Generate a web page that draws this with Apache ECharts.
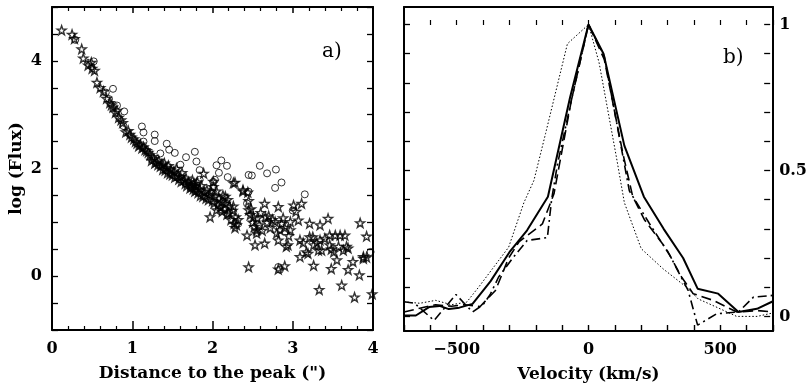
<!DOCTYPE html>
<html>
<head>
<meta charset="utf-8">
<script src="https://cdn.jsdelivr.net/npm/echarts@6/dist/echarts.min.js"></script>
<style>html,body{margin:0;padding:0;background:#fff}#c{width:810px;height:390px}</style>
</head>
<body>
<div id="c"></div>
<script>
// ---- Panel a) : log(Flux) vs distance to the peak ----
const starPoints = [
[0.12,4.57],[0.25,4.49],[0.28,4.41],[0.37,4.22],[0.39,4.05],[0.45,3.92],[0.49,3.97],[0.53,3.82],[0.50,3.86],[0.56,3.60],
[0.60,3.50],[0.64,3.43],[0.68,3.30],[0.72,3.22],[0.74,3.18],[0.76,3.14],[0.79,3.04],[0.81,3.08],[0.83,2.95],[0.86,2.90],
[0.88,2.85],[0.92,2.68],[0.95,2.70],[0.97,2.63],[0.99,2.58],[1.02,2.55],[1.04,2.50],[1.06,2.47],[1.08,2.42],[1.10,2.45],
[1.12,2.38],[1.14,2.40],[1.16,2.35],[1.18,2.33],[1.20,2.30],[1.22,2.25],[1.24,2.15],[1.25,2.22],[1.27,2.18],[1.28,2.10],
[1.30,2.12],[1.32,2.07],[1.33,2.15],[1.35,2.04],[1.37,2.08],[1.38,1.98],[1.40,2.10],[1.41,1.97],[1.42,2.02],[1.44,1.92],
[1.45,2.05],[1.47,1.90],[1.48,1.98],[1.50,1.88],[1.52,1.95],[1.53,1.84],[1.55,2.00],[1.56,1.86],[1.58,1.80],[1.60,1.85],
[1.61,1.76],[1.62,1.92],[1.64,1.78],[1.66,1.72],[1.67,1.82],[1.68,1.68],[1.70,1.75],[1.72,1.64],[1.73,1.70],[1.74,1.66],
[1.75,1.78],[1.76,1.62],[1.77,1.72],[1.78,1.58],[1.79,1.67],[1.80,1.60],[1.81,1.75],[1.82,1.55],[1.84,1.62],[1.85,1.50],
[1.86,1.68],[1.88,1.48],[1.89,1.91],[1.90,1.56],[1.92,1.45],[1.93,1.60],[1.95,1.42],[1.96,1.52],[1.97,1.10],[1.98,1.58],
[2.00,1.40],[2.01,1.66],[2.02,1.36],[2.03,1.48],[2.05,1.58],[2.05,1.23],[2.07,1.32],[2.08,1.45],[2.10,1.28],[2.11,1.38],
[2.12,1.20],[2.13,1.50],[2.15,1.25],[2.16,1.35],[2.18,1.15],[2.19,1.42],[2.20,1.17],[2.21,1.30],[2.23,1.05],[2.25,1.22],
[2.26,1.30],[2.27,0.98],[2.28,0.90],[2.29,1.10],[2.30,0.95],[2.32,1.05],[2.28,1.74],[2.38,1.58],[2.44,1.56],[2.45,1.40],
[2.01,1.76],[2.16,1.48],[2.26,1.73],[2.38,1.60],[2.45,1.23],[2.51,1.10],[2.43,0.76],[2.47,1.14],[2.48,1.25],[2.50,1.00],
[2.52,0.92],[2.53,0.58],[2.55,0.80],[2.55,0.86],[2.56,1.08],[2.58,0.95],[2.60,1.18],[2.62,0.85],[2.65,1.35],[2.66,1.10],
[2.65,0.61],[2.68,1.00],[2.70,1.12],[2.72,0.90],[2.75,1.05],[2.78,1.01],[2.80,0.80],[2.82,1.29],[2.82,0.67],[2.84,0.86],
[2.86,0.98],[2.88,1.08],[2.90,0.90],[2.92,0.55],[2.94,0.58],[2.95,0.75],[2.97,1.01],[2.97,0.86],[3.01,1.32],[3.04,1.20],
[3.07,1.04],[3.09,0.67],[3.11,1.35],[3.09,0.36],[3.13,0.62],[3.17,0.45],[3.19,0.42],[3.21,0.98],[3.21,0.73],[3.25,0.73],
[3.26,0.58],[3.30,0.62],[3.32,0.48],[3.34,0.95],[3.34,0.67],[3.36,0.48],[3.40,0.70],[3.44,1.07],[3.46,0.76],[3.46,0.58],
[3.48,0.50],[3.51,0.45],[3.53,0.76],[3.55,0.30],[3.57,0.55],[3.59,0.76],[3.63,0.48],[3.65,0.76],[3.67,0.55],[3.69,0.52],
[2.45,0.17],[2.82,0.13],[2.90,0.19],[3.26,0.20],[3.48,0.14],[3.69,0.12],[3.75,0.27],[3.83,0.02],[3.88,0.33],[3.92,0.35],
[3.84,0.99],[3.92,0.74],[3.88,0.36],[3.33,-0.25],[3.61,-0.17],[3.77,-0.39],[3.99,-0.33]
];
const circlePoints = [
[0.29,4.39],[0.52,3.99],[0.45,3.96],[0.76,3.48],[0.67,3.41],[0.71,3.29],[0.81,3.17],[0.90,3.06],[0.89,2.79],[1.12,2.78],
[1.14,2.67],[1.28,2.63],[1.28,2.51],[1.14,2.50],[1.43,2.46],[1.46,2.35],[1.35,2.28],[1.53,2.29],[1.67,2.21],[1.78,2.31],
[1.80,2.13],[1.84,1.97],[2.05,2.06],[2.11,2.15],[2.18,2.05],[2.08,1.92],[2.19,1.84],[1.60,2.07],[1.84,1.79],[2.03,1.79],
[2.45,1.88],[2.49,1.87],[2.59,2.05],[2.68,1.91],[2.79,1.98],[2.86,1.74],[2.78,1.64],[3.15,1.52],[2.01,1.75],[2.45,1.57],
[2.43,1.35],[2.82,0.17],[2.84,0.12],[3.00,1.22],[3.97,0.45]
];
const xTicksA = [0, 1, 2, 3, 4];
const yTicksA = [0, 2, 4];

// ---- Panel b) : normalised line profiles vs velocity ----
const solidLine = [[-700,0.003],[-655,0.003],[-605,0.032],[-565,0.036],[-530,0.025],[-490,0.03],[-440,0.043],[-372,0.12],
[-300,0.22],[-233,0.295],[-154,0.41],[-70,0.75],[0,1.0],[57,0.90],[136,0.585],[210,0.41],[285,0.30],[359,0.20],[414,0.095],
[492,0.078],[569,0.015],[639,0.026],[700,0.052]];
const dashedLine = [[-700,0.015],[-640,0.028],[-580,0.04],[-520,0.035],[-470,0.04],[-411,0.034],[-353,0.089],[-303,0.20],
[-264,0.255],[-175,0.317],[-131,0.42],[-65,0.74],[0,1.0],[60,0.88],[130,0.56],[168,0.41],[213,0.33],[295,0.232],[353,0.135],
[397,0.078],[473,0.055],[563,0.015],[640,0.02],[700,0.015]];
const dashDotLine = [[-700,0.05],[-660,0.045],[-586,-0.014],[-545,0.03],[-503,0.075],[-440,0.015],[-400,0.04],[-373,0.075],
[-341,0.135],[-290,0.197],[-233,0.26],[-156,0.27],[-140,0.40],[-118,0.52],[-65,0.74],[0,1.0],[60,0.89],[155,0.43],[230,0.32],
[308,0.21],[378,0.089],[414,-0.03],[486,0.009],[569,0.015],[626,0.066],[700,0.072]];
const dottedLine = [[-700,0.05],[-640,0.045],[-580,0.055],[-520,0.04],[-462,0.049],[-417,0.10],[-303,0.237],[-245,0.39],
[-207,0.466],[-163,0.626],[-80,0.934],[0,1.0],[40,0.87],[105,0.55],[136,0.39],[200,0.232],[283,0.163],[372,0.10],[416,0.06],
[490,0.03],[562,0.0],[640,0.0],[700,0.012]];
const xLabelsB = [-500, 0, 500];
const yLabelsB = [0, 0.5, 1];

const FONT = 'DejaVu Serif';
const lab = {color:'#000', fontFamily:FONT, fontWeight:'bold', fontSize:16};
const nameStyle = {color:'#000', fontFamily:FONT, fontWeight:'bold', fontSize:17};
const frame = () => ({onZero:false, lineStyle:{color:'#000', width:2}});
const starPath = 'path://M0,-10 L2.35,-3.24 L9.51,-3.09 L3.8,1.24 L5.88,8.09 L0,4 L-5.88,8.09 L-3.8,1.24 L-9.51,-3.09 L-2.35,-3.24 Z';

// panel b value range (frame) and the 0..1 tick band inside it
const yMinB = -0.05, yMaxB = 1.06, gridBTop = 7, gridBHeight = 324;
const bandTop = gridBTop + (yMaxB - 1) / (yMaxB - yMinB) * gridBHeight;
const bandHeight = gridBHeight / (yMaxB - yMinB);

const chart = echarts.init(document.getElementById('c'), null, {renderer:'canvas'});
chart.setOption({
  animation:false,
  backgroundColor:'#fff',
  grid:[
    {left:52, top:7, width:321, height:323},
    {left:404, top:gridBTop, width:369, height:gridBHeight},
    {left:404, top:bandTop, width:369, height:bandHeight},
    {left:404, top:gridBTop, width:369, height:gridBHeight}
  ],
  xAxis:[
    {gridIndex:0, type:'value', min:0, max:4, interval:1, position:'bottom',
     axisLine:frame(), splitLine:{show:false},
     axisTick:{show:true, inside:true, length:9, lineStyle:{color:'#000', width:1.5}},
     minorTick:{show:true, splitNumber:5, length:4, lineStyle:{color:'#000', width:1.2}},
     axisLabel:Object.assign({margin:11, formatter:v => xTicksA.includes(v) ? String(v) : ''}, lab),
     name:'Distance to the peak (")', nameLocation:'middle', nameGap:35, nameTextStyle:nameStyle},
    {gridIndex:0, type:'value', min:0, max:4, interval:1, position:'top',
     axisLine:frame(), splitLine:{show:false},
     axisTick:{show:true, inside:true, length:6, lineStyle:{color:'#000', width:1.5}},
     minorTick:{show:true, splitNumber:5, length:4, lineStyle:{color:'#000', width:1.2}},
     axisLabel:{show:false}},
    {gridIndex:1, type:'value', min:-700, max:700, interval:100, position:'bottom',
     axisLine:frame(), splitLine:{show:false},
     axisTick:{show:false},
     axisLabel:Object.assign({margin:11,
       formatter:v => xLabelsB.includes(v) ? (v < 0 ? '\u2212' + Math.abs(v) : String(v)) : ''}, lab),
     name:'Velocity (km/s)', nameLocation:'middle', nameGap:35, nameTextStyle:nameStyle},
    {gridIndex:1, type:'value', min:-700, max:700, interval:100, position:'top',
     axisLine:frame(), splitLine:{show:false}, axisTick:{show:false}, axisLabel:{show:false}},
    {gridIndex:2, type:'value', min:-700, max:700, show:false},
    {gridIndex:3, type:'value', min:-700, max:700, interval:100, position:'bottom',
     axisLine:{show:false, onZero:false}, splitLine:{show:false},
     axisTick:{show:true, inside:true, length:6, lineStyle:{color:'#000', width:1.4}},
     axisLabel:{show:true, color:'rgba(0,0,0,0)'}},
    {gridIndex:3, type:'value', min:-700, max:700, interval:100, position:'top',
     axisLine:{show:false, onZero:false}, splitLine:{show:false},
     axisTick:{show:true, inside:true, length:5, lineStyle:{color:'#000', width:1.2}},
     axisLabel:{show:true, color:'rgba(0,0,0,0)'}}
  ],
  yAxis:[
    {gridIndex:0, type:'value', min:-1, max:5, interval:0.5, position:'left',
     axisLine:frame(), splitLine:{show:false},
     axisTick:{show:true, inside:true, length:6, lineStyle:{color:'#000', width:1.3}},
     axisLabel:Object.assign({margin:10, formatter:v => yTicksA.includes(v) ? String(v) : ''}, lab),
     name:'log (Flux)', nameLocation:'middle', nameGap:27, nameTextStyle:nameStyle},
    {gridIndex:0, type:'value', min:-1, max:5, interval:0.5, position:'right',
     axisLine:frame(), splitLine:{show:false},
     axisTick:{show:true, inside:true, length:6, lineStyle:{color:'#000', width:1.3}},
     axisLabel:{show:false}},
    {gridIndex:1, type:'value', min:yMinB, max:yMaxB, position:'left',
     axisLine:frame(), splitLine:{show:false}, axisTick:{show:false}, axisLabel:{show:false}},
    {gridIndex:1, type:'value', min:yMinB, max:yMaxB, position:'right',
     axisLine:frame(), splitLine:{show:false}, axisTick:{show:false}, axisLabel:{show:false}},
    {gridIndex:2, type:'value', min:0, max:1, interval:0.1, position:'left',
     axisLine:{show:false, onZero:false}, splitLine:{show:false},
     axisTick:{show:true, inside:true, length:6, lineStyle:{color:'#000', width:1.3}},
     axisLabel:{show:false}},
    {gridIndex:2, type:'value', min:0, max:1, interval:0.1, position:'right',
     axisLine:{show:false, onZero:false}, splitLine:{show:false},
     axisTick:{show:true, inside:true, length:6, lineStyle:{color:'#000', width:1.3}},
     axisLabel:Object.assign({margin:9, align:'left',
       formatter:v => yLabelsB.some(t => Math.abs(t - v) < 1e-9) ? String(+v.toFixed(1)) : ''}, lab)},
    {gridIndex:3, type:'value', min:0, max:1, show:false}
  ],
  series:[
    {type:'scatter', xAxisIndex:0, yAxisIndex:0, data:starPoints, symbol:starPath, symbolSize:9,
     itemStyle:{color:'rgba(0,0,0,0)', borderColor:'#000', borderWidth:1.4}},
    {type:'scatter', xAxisIndex:0, yAxisIndex:0, data:circlePoints, symbol:'circle', symbolSize:7,
     itemStyle:{color:'rgba(0,0,0,0)', borderColor:'#000', borderWidth:1}},
    {type:'line', xAxisIndex:2, yAxisIndex:2, data:solidLine, symbol:'none',
     lineStyle:{color:'#000', width:2}},
    {type:'line', xAxisIndex:2, yAxisIndex:2, data:dashedLine, symbol:'none',
     lineStyle:{color:'#000', width:1.6, type:[10,5]}},
    {type:'line', xAxisIndex:2, yAxisIndex:2, data:dashDotLine, symbol:'none',
     lineStyle:{color:'#000', width:1.6, type:[9,4,2,4]}},
    {type:'line', xAxisIndex:2, yAxisIndex:2, data:dottedLine, symbol:'none',
     lineStyle:{color:'#000', width:1, type:[1.5,2]}}
  ],
  graphic:[
    {type:'text', left:322, top:42, style:{text:'a)', font:'20px "DejaVu Serif"', fill:'#000'}},
    {type:'text', left:723, top:48, style:{text:'b)', font:'20px "DejaVu Serif"', fill:'#000'}}
  ]
});
</script>
</body>
</html>
